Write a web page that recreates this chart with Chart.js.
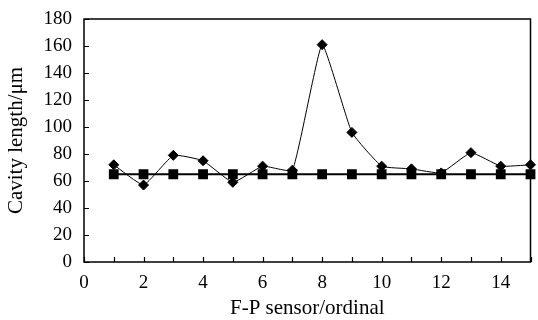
<!DOCTYPE html>
<html>
<head>
<meta charset="utf-8">
<script src="https://cdn.jsdelivr.net/npm/chart.js@4/dist/chart.umd.min.js"></script>
<style>
  html, body { margin: 0; padding: 0; background: #fff; }
  #wrap { width: 538px; height: 320px; }
</style>
</head>
<body>
<div id="wrap"><canvas id="cavityChart"></canvas></div>
<script>
// sensor ordinals and measured cavity lengths
const sensors = [1, 2, 3, 4, 5, 6, 7, 8, 9, 10, 11, 12, 13, 14, 15];
const measured = [72, 57, 79, 75, 59, 71, 68, 161, 96, 71, 69, 66, 81, 71, 72];
const nominal = [65, 65, 65, 65, 65, 65, 65, 65, 65, 65, 65, 65, 65, 65, 65];
const xTickLabels = [0, 2, 4, 6, 8, 10, 12, 14];

const serif = "'Liberation Serif', 'DejaVu Serif', serif";

// box frame + inward tick marks
const frameTicks = {
  id: 'frameTicks',
  afterDraw(chart) {
    const { ctx, chartArea: a, scales } = chart;
    ctx.save();
    ctx.strokeStyle = '#000';
    ctx.lineWidth = 1.5;
    ctx.strokeRect(a.left, a.top, a.right - a.left, a.bottom - a.top);
    ctx.lineWidth = 1.2;
    ctx.beginPath();
    for (let v = 0; v <= 15; v++) {
      const x = Math.round(scales.x.getPixelForValue(v)) + 0.5;
      ctx.moveTo(x, a.bottom);
      ctx.lineTo(x, a.bottom - 5);
    }
    for (let v = 0; v <= 180; v += 20) {
      const y = Math.round(scales.y.getPixelForValue(v)) + 0.5;
      ctx.moveTo(a.left, y);
      ctx.lineTo(a.left + 5, y);
    }
    ctx.stroke();
    ctx.restore();
  }
};

new Chart(document.getElementById('cavityChart').getContext('2d'), {
  type: 'line',
  data: {
    labels: sensors,
    datasets: [{
      label: 'Measured',
      data: sensors.map((s, i) => ({ x: s, y: measured[i] })),
      borderColor: '#000',
      backgroundColor: '#000',
      borderWidth: 1,
      tension: 0.12,
      pointStyle: 'rectRot',
      pointRadius: 5,
      clip: false
    }, {
      label: 'Nominal',
      data: sensors.map((s, i) => ({ x: s, y: nominal[i] })),
      borderColor: '#000',
      backgroundColor: '#000',
      borderWidth: 2,
      tension: 0,
      pointStyle: 'rect',
      pointRadius: 5.5,
      clip: false
    }]
  },
  options: {
    responsive: true,
    maintainAspectRatio: false,
    animation: false,
    layout: { padding: { top: 19, right: 1, left: 0, bottom: 0 } },
    scales: {
      x: {
        type: 'linear',
        min: 0,
        max: 15,
        grid: { display: false },
        border: { display: false },
        afterFit: s => { s.height = 58; },
        afterBuildTicks: s => { s.ticks = xTickLabels.map(v => ({ value: v })); },
        ticks: {
          color: '#000',
          padding: 2,
          maxRotation: 0,
          font: { family: serif, size: 19 }
        },
        title: {
          display: true,
          text: 'F-P sensor/ordinal',
          color: '#000',
          padding: { top: 8, bottom: 0 },
          font: { family: serif, size: 21, lineHeight: 1.05 }
        }
      },
      y: {
        min: 0,
        max: 180,
        grid: { display: false },
        border: { display: false },
        afterFit: s => { s.width = 84; },
        ticks: {
          stepSize: 20,
          color: '#000',
          padding: 4,
          font: { family: serif, size: 19 }
        },
        title: {
          display: true,
          text: 'Cavity length/μm',
          color: '#000',
          padding: { bottom: 4 },
          font: { family: serif, size: 21 }
        }
      }
    },
    plugins: {
      legend: { display: false },
      tooltip: { enabled: false }
    }
  },
  plugins: [frameTicks]
});
</script>
</body>
</html>
